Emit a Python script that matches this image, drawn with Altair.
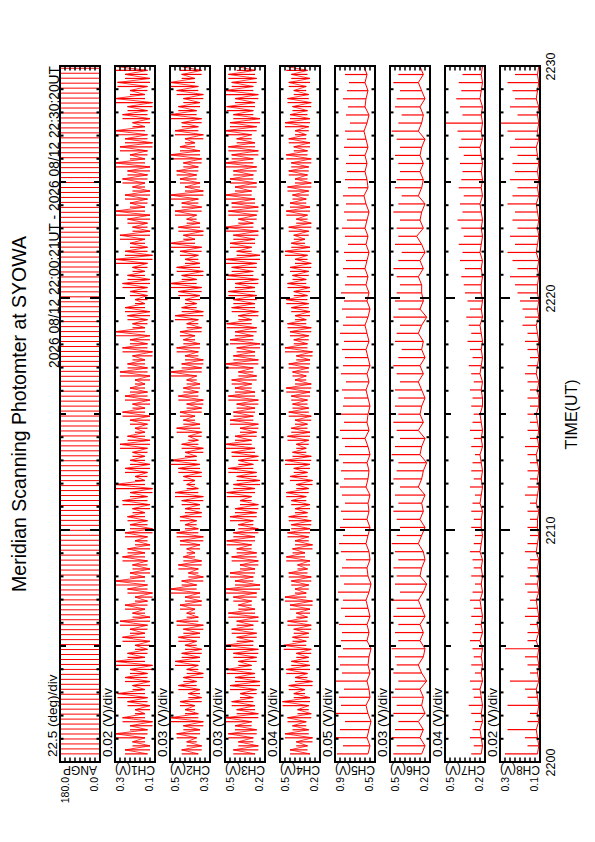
import altair as alt
import pandas as pd

FONT = "Liberation Sans"
T0, T1 = 0.35, 30.33          # 22:00:21 UT .. 22:30:20 UT, minutes after 22:00
PLOT_W, PLOT_H = 480, 696
PANEL_W, PANEL_STEP = 40, 55
RED = "#ff0000"

title_text = "Meridian Scanning Photomter at SYOWA"
subtitle_text = "2026 08/12 22:00:21UT - 2026 08/12 22:30:20UT"
panel_names = ["ANGP", "CH1(V)", "CH2(V)", "CH3(V)", "CH4(V)", "CH5(V)", "CH6(V)", "CH7(V)", "CH8(V)"]
div_labels = ["22.5 (deg)/div", "0.02 (V)/div", "0.03 (V)/div", "0.03 (V)/div", "0.04 (V)/div",
              "0.05 (V)/div", "0.03 (V)/div", "0.04 (V)/div", "0.02 (V)/div"]
dom_lo = [0.0, 0.12, 0.27, 0.23, 0.19, 0.50, 0.23, 0.19, 0.12]
dom_hi = [180.0, 0.28, 0.51, 0.47, 0.51, 0.90, 0.47, 0.51, 0.28]
time_ticks = [0, 10, 20, 30]

# scan angle turning points (deg), bottom (22:00) to top (22:30)
ang_turns = [0, 180, 0, 180, 0, 180, 0, 180, 0, 180, 0, 180, 0, 180, 0, 180, 0, 180, 0, 180,
             0, 180, 0, 180, 0, 180, 0, 180, 0, 180, 0, 180, 0, 180, 0, 180, 0, 180, 0, 180,
             0, 180, 0, 180, 0, 180, 0, 180, 0, 180, 0, 180, 0, 180, 0, 180, 0, 180, 0, 180,
             0, 180, 0, 180, 0, 180, 0, 180, 0, 180, 0, 180, 0, 180, 0, 180, 0, 180, 0, 180,
             0, 180, 0, 180, 0, 180, 0, 180, 0, 180, 0, 180, 0, 180, 0, 180, 0, 180, 0, 180,
             0, 180, 0, 180, 0, 180, 0, 180, 0, 180, 0, 180, 0, 180, 0, 180, 0, 180, 0, 180,
             0, 180, 0, 180, 0, 180, 0, 180, 0, 180, 0, 180, 0, 180, 0, 180, 0, 180, 0, 180, 0]

# per half-scan peak / trough values (V), bottom (22:00) to top (22:30)
ch1_peak = [.24, .21, .28, .22, .25, .20, .23, .27, .21, .24, .22, .28, .23, .20, .25,
            .22, .26, .21, .24, .20, .23, .28, .22, .21, .25, .23, .20, .24, .22,
            .23, .21, .25, .22, .28, .20, .24, .22, .21, .26, .23, .20, .22, .25, .21,
            .24, .22, .20, .26, .23, .21, .25, .22, .28, .21, .23, .24, .20, .22,
            .25, .23, .21, .28, .24, .22, .26, .21, .23, .28, .22, .24, .21, .25, .23,
            .28, .22, .26, .24, .28, .21, .25, .23, .28, .22, .27, .24, .28, .23]
ch1_base = [.15, .14, .16, .15, .13, .16, .14, .15, .16, .14, .15, .13, .16, .15, .14,
            .16, .15, .14, .16, .15, .13, .15, .16, .14, .15, .16, .14, .15, .13,
            .15, .16, .14, .15, .13, .16, .15, .14, .16, .15, .14, .16, .15, .14, .16,
            .14, .15, .16, .14, .15, .16, .13, .15, .14, .16, .15, .14, .16, .15,
            .15, .14, .16, .15, .13, .15, .16, .14, .15, .14, .16, .15, .14, .16, .15,
            .14, .16, .15, .13, .15, .16, .14, .15, .13, .16, .15, .14, .15, .16]
ch2_peak = [.44, .41, .47, .43, .51, .42, .45, .40, .46, .43, .41, .48, .44, .42, .46,
            .43, .47, .41, .45, .42, .51, .44, .40, .46, .43, .41, .45, .47, .42,
            .45, .42, .44, .48, .41, .43, .46, .51, .42, .44, .40, .47, .43, .45, .41,
            .46, .43, .41, .51, .44, .42, .47, .43, .45, .41, .48, .44, .42, .46,
            .51, .44, .47, .42, .45, .51, .43, .46, .41, .48, .44, .51, .42, .45, .47,
            .43, .51, .45, .42, .48, .44, .51, .46, .43, .47, .51, .44, .45, .50]
ch2_base = [.34, .32, .35, .33, .31, .34, .36, .32, .33, .35, .31, .34, .33, .32, .35,
            .33, .31, .34, .36, .32, .33, .35, .31, .34, .32, .36, .33, .31, .34,
            .35, .32, .33, .31, .34, .36, .32, .33, .35, .31, .34, .32, .33, .36, .32,
            .31, .34, .33, .35, .32, .31, .34, .33, .36, .32, .34, .31, .35, .33,
            .32, .35, .31, .33, .34, .32, .36, .31, .33, .35, .32, .34, .31, .33, .35,
            .34, .32, .33, .36, .31, .34, .32, .35, .33, .31, .34, .36, .32, .33]
ch3_peak = [.42, .39, .45, .41, .47, .40, .43, .38, .44, .41, .46, .39, .42, .47, .40,
            .43, .40, .45, .39, .42, .47, .41, .44, .38, .43, .40, .46, .42, .39,
            .44, .41, .38, .46, .42, .40, .45, .39, .43, .47, .41, .38, .44, .42, .40,
            .45, .41, .43, .39, .47, .42, .40, .44, .41, .46, .39, .43, .42, .45,
            .41, .46, .43, .47, .40, .44, .42, .47, .39, .45, .43, .47, .41, .44, .42,
            .47, .43, .45, .40, .47, .44, .42, .46, .41, .47, .43, .45, .40, .47]
ch3_base = [.29, .27, .30, .28, .31, .27, .29, .30, .28, .26, .29, .31, .28, .27, .30,
            .28, .30, .27, .29, .31, .28, .26, .30, .29, .27, .28, .31, .29, .27,
            .30, .28, .27, .31, .29, .26, .28, .30, .27, .29, .31, .28, .27, .30, .29,
            .27, .29, .31, .28, .30, .27, .29, .26, .30, .28, .31, .27, .29, .28,
            .29, .27, .30, .28, .26, .31, .29, .27, .30, .28, .27, .29, .31, .28, .30,
            .28, .30, .27, .29, .31, .28, .26, .30, .29, .27, .30, .28, .29, .27]
ch4_peak = [.43, .38, .47, .41, .45, .37, .49, .40, .44, .39, .46, .42, .38, .48, .41,
            .40, .45, .38, .43, .47, .39, .42, .44, .37, .46, .41, .39, .45, .42,
            .44, .39, .42, .46, .38, .43, .40, .47, .41, .38, .45, .42, .39, .44, .41,
            .42, .46, .39, .41, .44, .38, .47, .40, .43, .45, .39, .42, .46, .40,
            .45, .41, .43, .39, .47, .42, .40, .44, .38, .46, .43, .41, .45, .39, .44,
            .42, .46, .40, .44, .39, .47, .43, .41, .45, .40, .44, .42, .46, .41]
ch4_base = [.27, .29, .25, .28, .30, .26, .28, .27, .31, .25, .29, .27, .28, .26, .30,
            .28, .26, .29, .27, .25, .30, .28, .26, .29, .27, .31, .25, .28, .27,
            .26, .29, .27, .30, .28, .25, .29, .27, .26, .30, .28, .27, .29, .26, .28,
            .29, .27, .26, .30, .28, .27, .25, .29, .28, .26, .30, .27, .28, .29,
            .27, .30, .28, .26, .29, .27, .31, .28, .26, .29, .27, .30, .28, .26, .29,
            .28, .26, .29, .27, .30, .28, .27, .29, .26, .28, .30, .27, .29, .28]
ch5_peak = [.88, .82, .90, .85, .80, .89, .84, .86, .81, .90, .83, .85, .87, .82, .84,
            .83, .86, .80, .84, .82, .87, .81, .85, .83, .79, .84, .86, .82, .85,
            .82, .84, .80, .83, .85, .81, .84, .82, .86, .80, .83, .85, .81, .84, .82,
            .81, .83, .79, .84, .82, .80, .83, .81, .85, .82, .79, .83, .81, .84,
            .80, .78, .82, .79, .81, .77, .80, .83, .78, .81, .79, .82, .77, .80, .78,
            .79, .76, .81, .78, .80, .75, .79, .77, .82, .78, .76, .80, .77, .79]
ch5_base = [.57, .55, .58, .56, .54, .57, .59, .55, .56, .58, .55, .57, .56, .54, .58,
            .56, .58, .55, .57, .59, .56, .54, .57, .58, .55, .56, .59, .57, .55,
            .58, .56, .57, .55, .59, .57, .56, .58, .55, .57, .60, .56, .58, .57, .55,
            .57, .59, .56, .58, .55, .57, .59, .56, .58, .60, .57, .55, .58, .56,
            .59, .57, .60, .58, .56, .59, .57, .60, .58, .56, .59, .61, .57, .58, .60,
            .58, .60, .57, .59, .61, .58, .56, .60, .59, .57, .60, .58, .61, .59]
ch6_peak = [.45, .43, .46, .44, .42, .45, .43, .46, .44, .42, .45, .43, .44, .46, .42,
            .44, .42, .45, .43, .46, .41, .44, .43, .45, .42, .44, .46, .43, .41,
            .43, .45, .42, .44, .41, .45, .43, .42, .46, .44, .41, .43, .45, .42, .44,
            .42, .44, .41, .43, .45, .42, .40, .44, .43, .41, .45, .42, .44, .43,
            .41, .43, .45, .42, .40, .44, .42, .43, .41, .45, .42, .40, .44, .43, .41,
            .42, .44, .41, .43, .46, .42, .40, .44, .43, .41, .45, .42, .44, .43]
ch6_base = [.28, .26, .29, .27, .30, .26, .28, .27, .29, .25, .28, .30, .27, .26, .29,
            .27, .29, .26, .28, .30, .27, .25, .29, .28, .26, .27, .30, .28, .26,
            .29, .27, .28, .26, .30, .28, .27, .25, .29, .28, .26, .30, .27, .29, .28,
            .26, .28, .30, .27, .29, .26, .28, .27, .30, .28, .25, .29, .27, .28,
            .28, .30, .27, .29, .26, .28, .31, .27, .29, .28, .26, .30, .28, .27, .29,
            .27, .29, .28, .26, .30, .28, .27, .29, .26, .28, .30, .27, .29, .28]
ch7_peak = [.30, .28, .31, .29, .27, .30, .32, .28, .29, .31, .27, .30, .28, .29, .31,
            .29, .27, .30, .28, .31, .29, .27, .30, .28, .29, .31, .28, .27, .30,
            .28, .30, .29, .27, .31, .28, .30, .29, .27, .30, .28, .31, .29, .28, .30,
            .29, .31, .28, .30, .32, .29, .31, .33, .30, .32, .34, .31, .33, .35,
            .36, .38, .35, .39, .37, .40, .36, .38, .41, .37, .39, .36, .40, .38, .37,
            .39, .36, .40, .38, .41, .51, .37, .39, .42, .38, .40, .37, .41, .39]
ch7_base = [.22, .21, .22, .23, .21, .22, .21, .22, .23, .21, .22, .21, .22, .21, .23,
            .21, .22, .21, .22, .23, .21, .22, .21, .22, .21, .23, .22, .21, .22,
            .22, .21, .23, .22, .21, .22, .21, .22, .23, .21, .22, .21, .22, .23, .21,
            .21, .22, .21, .23, .22, .21, .22, .21, .22, .23, .21, .22, .21, .22,
            .22, .21, .22, .21, .23, .22, .21, .22, .21, .22, .23, .21, .22, .21, .22,
            .21, .22, .23, .21, .22, .21, .22, .21, .23, .22, .21, .22, .21, .22]
ch8_peak = [.26, .17, .18, .25, .17, .16, .25, .17, .18, .24, .16, .17, .18, .26, .17,
            .17, .16, .18, .17, .16, .17, .18, .16, .17, .16, .18, .17, .16, .17,
            .16, .17, .16, .18, .17, .16, .17, .16, .17, .18, .16, .17, .16, .17, .16,
            .17, .16, .17, .18, .17, .16, .17, .18, .17, .19, .18, .19, .20, .21,
            .22, .24, .21, .23, .25, .22, .24, .21, .23, .22, .25, .23, .21, .24, .22,
            .23, .21, .24, .22, .25, .28, .21, .24, .22, .23, .25, .22, .24, .21]
ch8_base = [.130, .125, .130, .135, .125, .130, .125, .130, .135, .125, .130, .125, .130, .125, .135,
            .125, .130, .125, .130, .135, .125, .130, .125, .130, .125, .135, .130, .125, .130,
            .130, .125, .135, .130, .125, .130, .125, .130, .135, .125, .130, .125, .130, .135, .125,
            .125, .130, .125, .135, .130, .125, .130, .125, .130, .135, .125, .130, .125, .130,
            .130, .125, .130, .125, .135, .130, .125, .130, .125, .130, .135, .125, .130, .125, .130,
            .125, .130, .135, .125, .130, .125, .130, .125, .135, .130, .125, .130, .125, .130]

channels = [(ch1_base, ch1_peak, "noisy"), (ch2_base, ch2_peak, "noisy"),
            (ch3_base, ch3_peak, "noisy"), (ch4_base, ch4_peak, "noisy"),
            (ch5_base, ch5_peak, "spiky"), (ch6_base, ch6_peak, "spiky"),
            (ch7_base, ch7_peak, "spiky"), (ch8_base, ch8_peak, "spiky")]


def interleave(base, peak):
    out = []
    for b, p in zip(base, peak):
        out += [b, p]
    return out


def times(n):
    return [T0 + k * (T1 - T0) / (n - 1) for k in range(n)]


def seg_frame(vals):
    """horizontal sweep from each sample to the next one, at the sample time"""
    ts = times(len(vals))
    return pd.DataFrame({"t": ts[:-1], "a": vals[:-1], "b": vals[1:]})


def point_frame(vals):
    return pd.DataFrame({"t": times(len(vals)), "v": vals, "k": list(range(len(vals)))})


lefts = [i * PANEL_STEP for i in range(len(panel_names))]

yscale = alt.Scale(domain=[0, 30], nice=False, zero=False)
yaxis = alt.Axis(orient="right", values=time_ticks,
                 labelExpr="'22' + (datum.value < 10 ? '0' : '') + datum.value",
                 labelAngle=270, labelAlign="center", labelBaseline="middle",
                 labelPadding=10, labelFontSize=12.5, labelColor="black", labelFont=FONT,
                 labelFlush=False, labelOverlap=False, ticks=False, tickSize=0,
                 domain=False, grid=False, title="TIME(UT)", titleAngle=270,
                 titleX=31, titleY=348, titleAlign="center", titleBaseline="middle",
                 titleFontSize=16, titleFontWeight="normal", titleColor="black", titleFont=FONT)
Y = alt.Y("t:Q", scale=yscale, axis=yaxis)
PX = alt.Scale(domain=[0, PLOT_W], range=[0, PLOT_W], nice=False, zero=False)


def xscale(i):
    left = lefts[i]
    return alt.Scale(domain=[dom_lo[i], dom_hi[i]], range=[left + PANEL_W, left],
                     nice=False, zero=False, clamp=True)


def value_ticks(i, xs):
    step = (dom_hi[i] - dom_lo[i]) / 8
    vt = pd.DataFrame({"v": [dom_lo[i] + j * step for j in range(1, 8)]})
    top = alt.Chart(vt).mark_rule(color="black", strokeWidth=1.5).encode(
        x=alt.X("v:Q", scale=xs, axis=None), y=alt.value(0), y2=alt.value(4.5))
    bot = alt.Chart(vt).mark_rule(color="black", strokeWidth=1.5).encode(
        x=alt.X("v:Q", scale=xs, axis=None), y=alt.value(PLOT_H - 4.5), y2=alt.value(PLOT_H))
    return [top, bot]


layers = []
# angle panel
xs0 = xscale(0)
ang = alt.Chart(seg_frame(ang_turns)).mark_rule(color=RED, strokeWidth=1, clip=True).encode(
    x=alt.X("a:Q", scale=xs0, axis=None), x2="b:Q", y=Y)
layers.append(alt.layer(ang, *value_ticks(0, xs0)))

for ci, (base, peak, kind) in enumerate(channels):
    i = ci + 1
    xs = xscale(i)
    if kind == "noisy":
        vals = interleave(base, peak)
        sweeps = alt.Chart(seg_frame(vals)).mark_rule(
            color=RED, strokeWidth=1.2, clip=True).encode(
            x=alt.X("a:Q", scale=xs, axis=None), x2="b:Q", y=Y)
        trace = alt.Chart(point_frame(vals)).mark_line(
            color=RED, strokeWidth=0.8, clip=True).encode(
            x=alt.X("v:Q", scale=xs, axis=None), y=Y, order="k:Q")
        layers.append(alt.layer(trace, sweeps, *value_ticks(i, xs)))
    else:
        n = min(len(base), len(peak))
        ts = times(n)
        spk = pd.DataFrame({"t": ts, "a": base[:n], "b": peak[:n]})
        spikes = alt.Chart(spk).mark_rule(color=RED, strokeWidth=1.2, clip=True).encode(
            x=alt.X("a:Q", scale=xs, axis=None), x2="b:Q", y=Y)
        baseline = alt.Chart(point_frame(list(base[:n]))).mark_line(
            color=RED, strokeWidth=1, clip=True).encode(
            x=alt.X("v:Q", scale=xs, axis=None), y=Y, order="k:Q")
        layers.append(alt.layer(baseline, spikes, *value_ticks(i, xs)))

# panel frames
frames_df = pd.DataFrame({"x0": lefts, "x1": [l + PANEL_W for l in lefts]})
frames = alt.Chart(frames_df).mark_rect(filled=False, stroke="black", strokeWidth=2).encode(
    x=alt.X("x0:Q", scale=PX, axis=None), x2="x1:Q", y=alt.value(0), y2=alt.value(PLOT_H))

# time ticks along both long edges of each panel (inside)
rows = []
for l in lefts:
    r = l + PANEL_W
    for m in range(1, 30):
        ln = 10 if m % 10 == 0 else (6 if m % 5 == 0 else 3.5)
        rows.append({"x0": l, "x1": l + ln, "t": m})
        rows.append({"x0": r - ln, "x1": r, "t": m})
tt = alt.Chart(pd.DataFrame(rows)).mark_rule(color="black", strokeWidth=2).encode(
    x=alt.X("x0:Q", scale=PX, axis=None), x2="x1:Q", y=Y)

names = alt.Chart(pd.DataFrame({"x": [l + PANEL_W / 2 for l in lefts], "label": panel_names})).mark_text(
    angle=180, align="center", baseline="middle", fontSize=12, color="black").encode(
    x=alt.X("x:Q", scale=PX, axis=None), y=alt.value(PLOT_H + 8), text="label:N")

divs = alt.Chart(pd.DataFrame({"x": [l - 7.5 for l in lefts], "label": div_labels})).mark_text(
    angle=270, align="left", baseline="middle", fontSize=13.5, color="black").encode(
    x=alt.X("x:Q", scale=PX, axis=None), y=alt.value(PLOT_H - 5), text="label:N")

end_x = [l + 5.5 for l in lefts] + [l + PANEL_W - 5.5 for l in lefts]
end_lab = [f"{v:.1f}" for v in dom_hi] + [f"{v:.1f}" for v in dom_lo]
ends = alt.Chart(pd.DataFrame({"x": end_x, "label": end_lab})).mark_text(
    angle=270, align="right", baseline="middle", fontSize=10.5, color="black").encode(
    x=alt.X("x:Q", scale=PX, axis=None), y=alt.value(PLOT_H + 15), text="label:N")

sub = alt.Chart(pd.DataFrame({"label": [subtitle_text]})).mark_text(
    angle=270, align="right", baseline="middle", fontSize=13.8, color="black").encode(
    x=alt.value(-5.5), y=alt.value(0), text="label:N")

ttl = alt.Chart(pd.DataFrame({"label": [title_text]})).mark_text(
    angle=270, align="center", baseline="middle", fontSize=19.5, color="black").encode(
    x=alt.value(-40), y=alt.value(PLOT_H / 2), text="label:N")

chart = alt.layer(*layers, tt, frames, names, divs, ends, sub, ttl).resolve_scale(
    x="independent").properties(
    width=PLOT_W, height=PLOT_H,
    padding={"left": 52, "top": 58, "right": 45, "bottom": 50},
    autosize=alt.AutoSizeParams(type="none"),
    background="white",
).configure(font=FONT).configure_view(strokeWidth=0)

chart.save("out.html", embed_options={"renderer": "svg", "actions": False})
